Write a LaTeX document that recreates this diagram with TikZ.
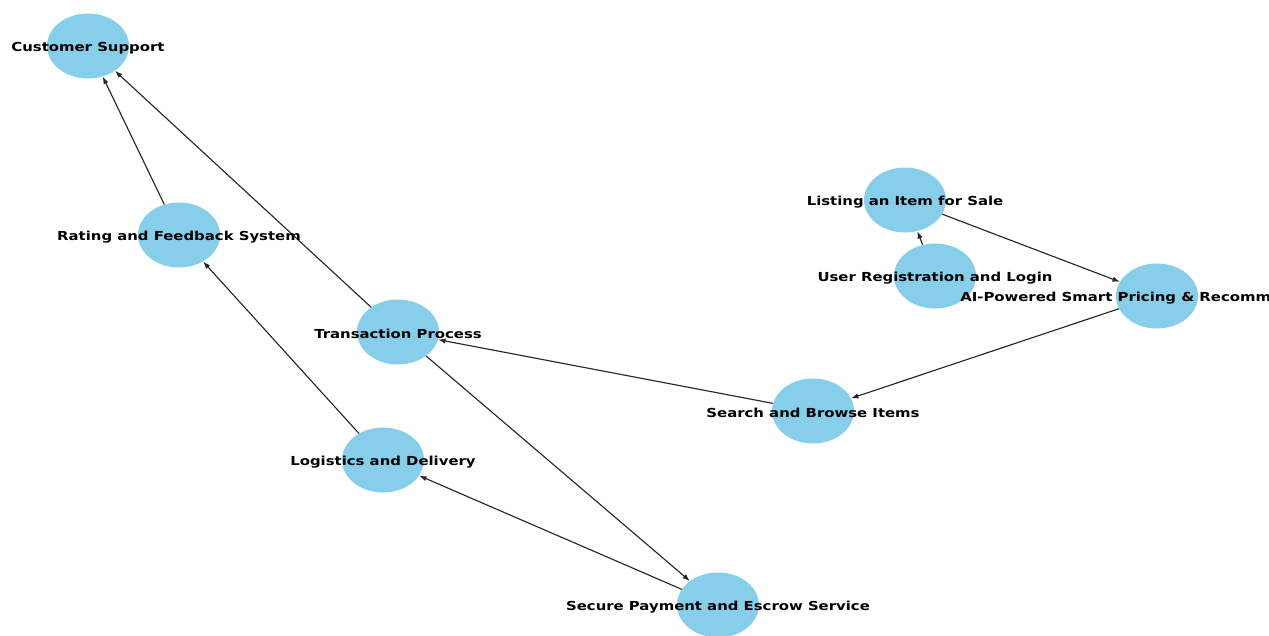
\documentclass[tikz,border=0pt]{standalone}
\usepackage{fontspec}
\newfontfamily\lblfont[FakeStretch=1.2]{DejaVu Sans}
\usetikzlibrary{arrows.meta,shapes.geometric}
\definecolor{nodeblue}{HTML}{87CEEB}
\begin{document}
\begin{tikzpicture}[x=0.75pt,y=-0.75pt,
  blob/.style={ellipse,fill=nodeblue,minimum width=61.5pt,minimum height=48.75pt,inner sep=0pt},
  lbl/.style={font=\lblfont\bfseries\fontsize{9.3}{11}\selectfont,text=black,inner sep=0pt,yshift=-1.5pt},
  conn/.style={-{Latex[length=5.5pt,width=4pt]},line width=0.85pt,black!85}]
\useasboundingbox (0,0) rectangle (1269,635);
\clip (0,0) rectangle (1269,635);
% nodes
\node[blob] (cs)   at (88,46)   {};
\node[blob] (rate) at (179,235) {};
\node[blob] (trans) at (398,332) {};
\node[blob] (logi) at (383,460) {};
\node[blob] (pay)  at (718,605) {};
\node[blob] (search) at (813,411) {};
\node[blob] (list) at (905,200) {};
\node[blob] (user) at (935,276) {};
\node[blob] (ai)   at (1157,296) {};
% connectors
\draw[conn] (rate) -- (cs);
\draw[conn] (trans) -- (cs);
\draw[conn] (logi) -- (rate);
\draw[conn] (trans) -- (pay);
\draw[conn] (pay) -- (logi);
\draw[conn] (search) -- (trans);
\draw[conn] (ai) -- (search);
\draw[conn] (list) -- (ai);
\draw[conn] (user) -- (list);
% labels
\node[lbl] (tcs) at (cs) {Customer Support};
\node[lbl] (trate) at (rate) {Rating and Feedback System};
\node[lbl] (ttrans) at (trans) {Transaction Process};
\node[lbl] (tlogi) at (logi) {Logistics and Delivery};
\node[lbl] (tpay) at (pay) {Secure Payment and Escrow Service};
\node[lbl] (tsearch) at (search) {Search and Browse Items};
\node[lbl] (tlist) at (list) {Listing an Item for Sale};
\node[lbl] (tuser) at (user) {User Registration and Login};
\node[lbl,anchor=west] (tai) at (960,296) {AI-Powered Smart Pricing \& Recomm};
\end{tikzpicture}
\end{document}
